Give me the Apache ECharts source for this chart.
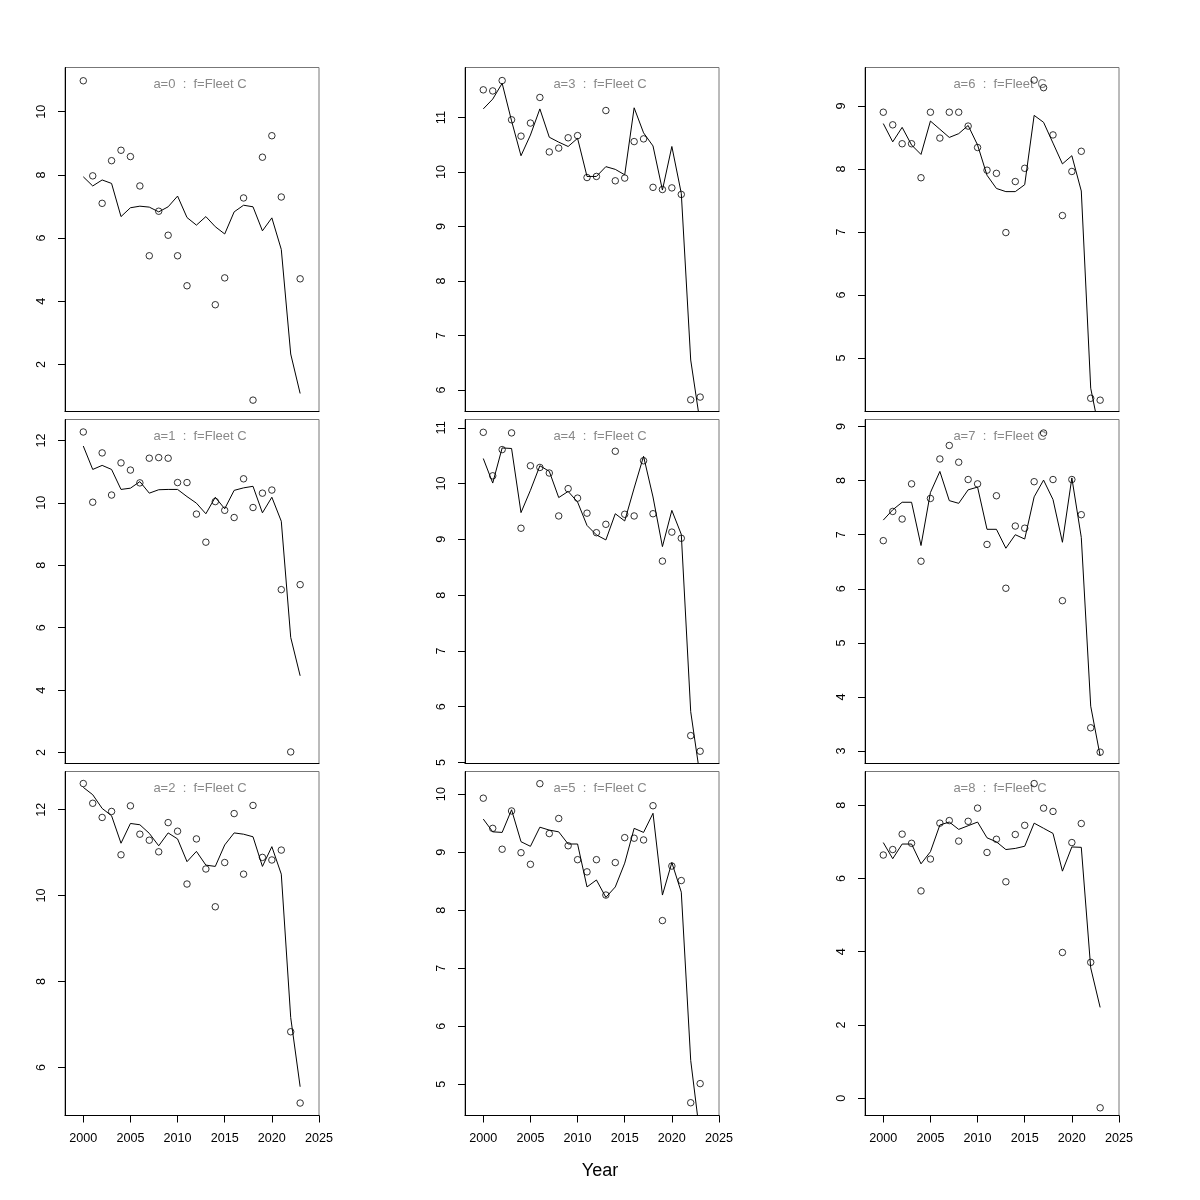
<!DOCTYPE html>
<html><head><meta charset="utf-8">
<script src="https://cdn.jsdelivr.net/npm/echarts@6/dist/echarts.min.js"></script>
<style>html,body{margin:0;padding:0;background:#fff}#c{width:1200px;height:1200px}</style>
</head><body><div id="c"></div><script>
var years = [2000,2001,2002,2003,2004,2005,2006,2007,2008,2009,2010,2011,2012,2013,2014,2015,2016,2017,2018,2019,2020,2021,2022,2023];
var xTicks = [2000,2005,2010,2015,2020,2025];

var obs0 = [10.98,7.97,7.10,8.45,8.78,8.58,7.65,5.44,6.85,6.09,5.44,4.49,null,null,3.89,4.74,null,7.27,0.87,8.56,9.24,7.30,null,4.71];
var fit0 = [7.94,7.65,7.84,7.73,6.68,6.96,7.01,6.98,6.83,6.99,7.33,6.65,6.41,6.68,6.36,6.13,6.83,7.04,6.99,6.23,6.64,5.64,2.33,1.08];
var obs1 = [12.27,10.02,11.60,10.25,11.28,11.05,10.64,11.43,11.45,11.43,10.65,10.65,9.64,8.74,10.04,9.76,9.53,10.77,9.85,10.31,10.41,7.22,2.02,7.38];
var fit1 = [11.82,11.07,11.20,11.07,10.43,10.47,10.68,10.31,10.42,10.43,10.43,10.20,9.99,9.65,10.18,9.81,10.40,10.48,10.53,9.68,10.18,9.41,5.69,4.46];
var obs2 = [12.61,12.15,11.82,11.96,10.95,12.09,11.43,11.29,11.02,11.70,11.50,10.27,11.32,10.62,9.74,10.77,11.91,10.50,12.10,10.89,10.83,11.06,6.83,5.17];
var fit2 = [12.52,12.35,12.03,11.86,11.22,11.68,11.65,11.45,11.16,11.46,11.32,10.79,11.03,10.71,10.68,11.18,11.46,11.43,11.37,10.68,11.14,10.50,7.16,5.55];
var obs3 = [11.51,11.49,11.68,10.96,10.66,10.90,11.37,10.37,10.44,10.63,10.67,9.90,9.92,11.13,9.84,9.89,10.56,10.61,9.72,9.68,9.71,9.59,5.82,5.87];
var fit3 = [11.16,11.34,11.63,10.94,10.30,10.68,11.16,10.64,10.55,10.47,10.62,9.92,9.92,10.10,10.05,9.95,11.18,10.72,10.48,9.67,10.47,9.61,6.55,5.39];
var obs4 = [10.92,10.14,10.61,10.91,9.20,10.32,10.29,10.19,9.42,9.91,9.74,9.47,9.12,9.27,10.58,9.45,9.42,10.41,9.46,8.61,9.13,9.02,5.48,5.20];
var fit4 = [10.45,10.01,10.64,10.63,9.48,9.88,10.32,10.22,9.75,9.86,9.67,9.25,9.08,8.99,9.46,9.33,9.92,10.49,9.76,8.87,9.52,9.09,5.91,4.74];
var obs5 = [9.93,9.41,9.05,9.71,8.99,8.79,10.18,9.32,9.58,9.11,8.87,8.66,8.87,8.26,8.82,9.25,9.24,9.21,9.80,7.82,8.76,8.51,4.68,5.01];
var fit5 = [9.57,9.35,9.34,9.73,9.18,9.10,9.43,9.38,9.35,9.14,9.14,8.40,8.52,8.22,8.40,8.81,9.41,9.34,9.67,8.26,8.82,8.31,5.41,4.09];
var obs6 = [8.90,8.70,8.40,8.40,7.86,8.90,8.49,8.90,8.90,8.68,8.34,7.98,7.93,6.99,7.80,8.01,9.41,9.29,8.54,7.26,7.96,8.28,4.36,4.33];
var fit6 = [8.72,8.43,8.66,8.38,8.23,8.76,8.63,8.50,8.56,8.69,8.38,7.90,7.69,7.64,7.64,7.75,8.85,8.74,8.41,8.08,8.21,7.65,4.52,3.78];
var obs7 = [6.89,7.43,7.29,7.94,6.51,7.67,8.40,8.65,8.34,8.02,7.94,6.82,7.72,6.01,7.16,7.12,7.98,8.88,8.02,5.78,8.02,7.37,3.43,2.98];
var fit7 = [7.27,7.46,7.60,7.60,6.80,7.78,8.17,7.63,7.58,7.83,7.88,7.10,7.10,6.75,7.00,6.92,7.70,8.01,7.65,6.86,8.05,6.95,3.83,2.91];
var obs8 = [6.64,6.79,7.21,6.96,5.66,6.53,7.51,7.58,7.02,7.56,7.92,6.71,7.07,5.91,7.20,7.45,8.59,7.92,7.83,3.98,6.98,7.50,3.71,-0.26];
var fit8 = [6.98,6.54,6.94,6.94,6.40,6.73,7.46,7.54,7.34,7.44,7.54,7.11,7.00,6.79,6.82,6.88,7.51,7.37,7.23,6.20,6.86,6.85,3.56,2.48];

var ages = [0,1,2,3,4,5,6,7,8];
var fleet = "Fleet C";
var yLo = [0.51,1.65,4.88,5.605,4.98,4.46,4.15,2.77,-0.47];
var yHi = [11.40,12.67,12.89,11.92,11.15,10.39,9.61,9.13,8.92];
var yTicks = [
  [2,4,6,8,10],
  [2,4,6,8,10,12],
  [6,8,10,12],
  [6,7,8,9,10,11],
  [5,6,7,8,9,10,11],
  [5,6,7,8,9,10],
  [5,6,7,8,9],
  [3,4,5,6,7,8,9],
  [0,2,4,6,8]
];
var obsAll = [obs0,obs1,obs2,obs3,obs4,obs5,obs6,obs7,obs8];
var fitAll = [fit0,fit1,fit2,fit3,fit4,fit5,fit6,fit7,fit8];

var FONT = '"Liberation Sans", Arial, Helvetica, sans-serif';
var colLeft = [65, 465, 865];
var rowTop = [67.5, 419.5, 771.5];
var W = 254, H = 344;

var grids = [], xAxes = [], yAxes = [], series = [], graphics = [];
ages.forEach(function (a, i) {
  var col = Math.floor(i / 3), row = i % 3;
  var left = colLeft[col], top = rowTop[row];
  grids.push({left: left, top: top, width: W, height: H, show: true, borderColor: '#777', borderWidth: 1,
    backgroundColor: 'transparent', containLabel: false, outerBoundsMode: 'none'});
  var bottom = row === 2;
  xAxes.push({gridIndex: i, type: 'value', min: 1998.06, max: 2025, position: 'bottom',
    splitLine: {show: false},
    axisLine: {show: true, onZero: false, lineStyle: {color: '#000', width: 1}},
    axisTick: {show: bottom, length: 7, customValues: xTicks, lineStyle: {color: '#000', width: 1}},
    axisLabel: {show: bottom, customValues: xTicks, margin: 17, fontSize: 12.6, color: '#000', fontFamily: FONT,
      formatter: function (v) { return String(v); }}
  });
  yAxes.push({gridIndex: i, type: 'value', min: yLo[i], max: yHi[i], position: 'left',
    splitLine: {show: false},
    axisLine: {show: true, onZero: false, lineStyle: {color: '#000', width: 1}},
    axisTick: {show: true, length: 7, customValues: yTicks[i], lineStyle: {color: '#000', width: 1}},
    axisLabel: {show: true, customValues: yTicks[i], rotate: 90, margin: 17, fontSize: 12.6, color: '#000', fontFamily: FONT,
      formatter: function (v) { return String(v); }}
  });
  var pts = [];
  years.forEach(function (y, k) { if (obsAll[i][k] !== null) pts.push([y, obsAll[i][k]]); });
  var fl = years.map(function (y, k) { return [y, fitAll[i][k]]; });
  series.push({type: 'line', xAxisIndex: i, yAxisIndex: i, data: fl, showSymbol: false, symbol: 'none',
    clip: true, lineStyle: {color: '#000', width: 1}, z: 3, silent: true});
  series.push({type: 'scatter', xAxisIndex: i, yAxisIndex: i, data: pts, symbol: 'circle', symbolSize: 6.5,
    clip: true, itemStyle: {color: 'rgba(0,0,0,0)', borderColor: '#000', borderWidth: 1}, z: 4, silent: true});
  graphics.push({type: 'text', x: left + W / 2 + 8, y: top + 16.5, z: 1,
    style: {text: 'a=' + a + '  :  f=' + fleet, textAlign: 'center', textVerticalAlign: 'middle',
      fill: '#888888', font: '13px ' + FONT}});
});
graphics.push({type: 'text', x: 600, y: 1171, style: {text: 'Year', textAlign: 'center', textVerticalAlign: 'middle',
  fill: '#000', font: '18px ' + FONT}});

var chart = echarts.init(document.getElementById('c'), null, {renderer: 'canvas'});
chart.setOption({
  animation: false,
  backgroundColor: '#fff',
  grid: grids, xAxis: xAxes, yAxis: yAxes, series: series, graphic: graphics
});
</script></body></html>
